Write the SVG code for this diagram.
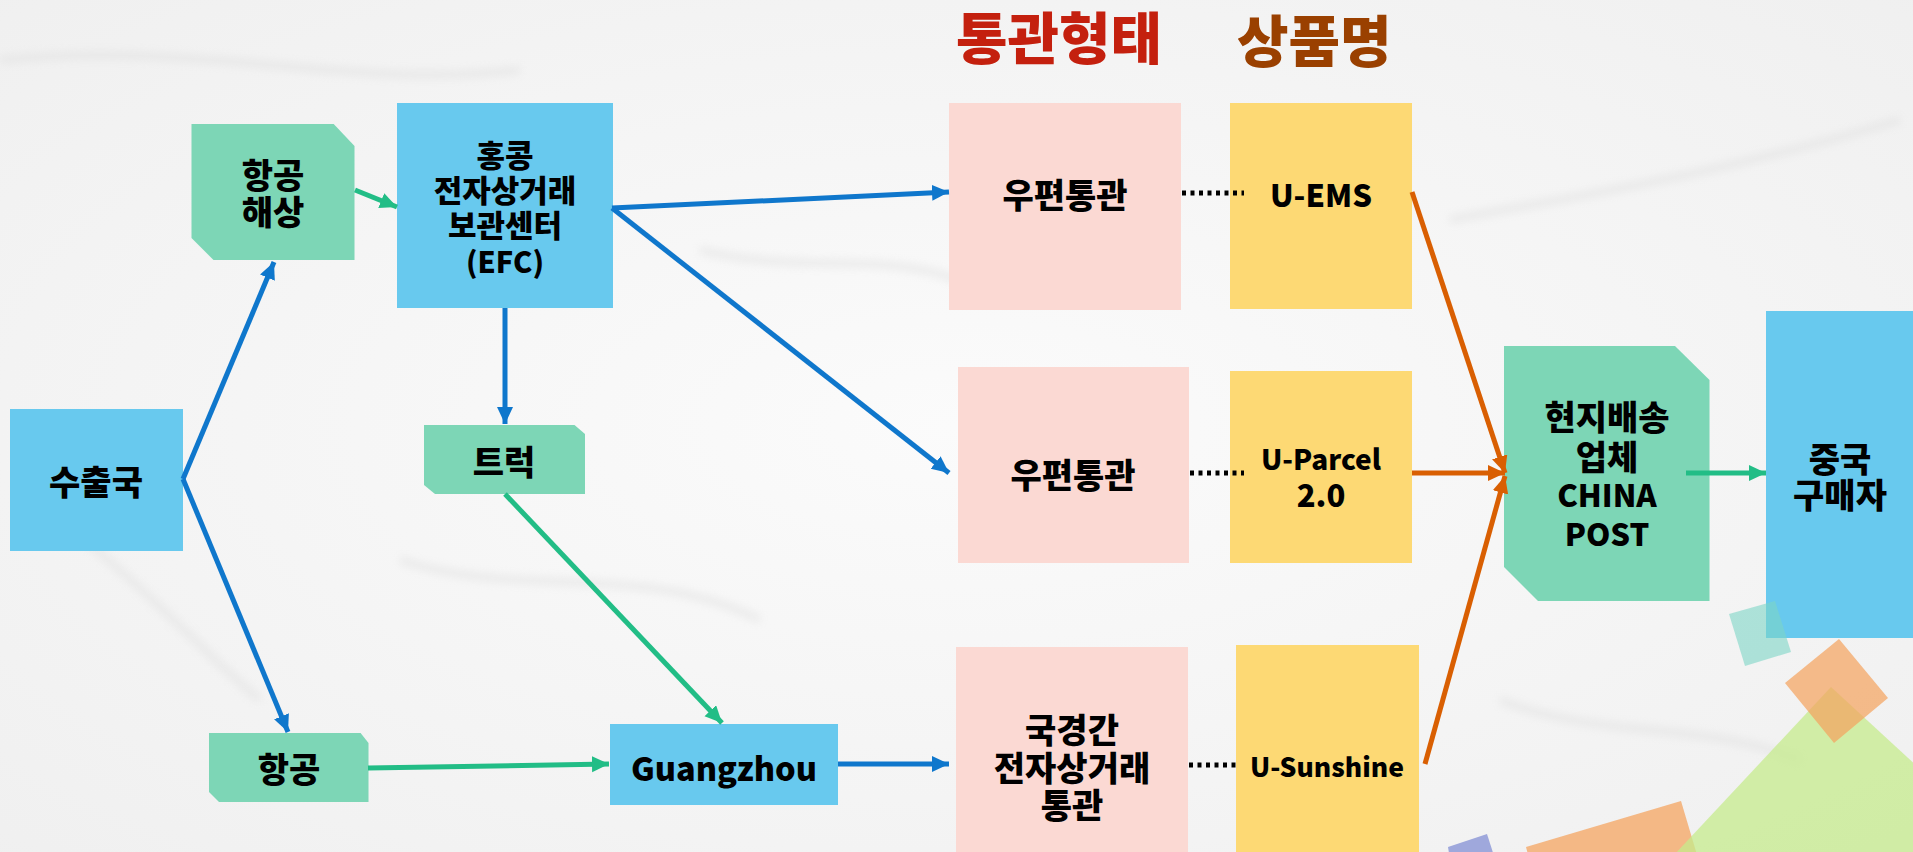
<svg xmlns="http://www.w3.org/2000/svg" width="1913" height="852" viewBox="0 0 1913 852">
<defs>
<style>
.t{font-family:"Noto Sans CJK KR","Noto Sans",sans-serif;font-weight:900;font-size:34px;fill:#000;text-anchor:middle;dominant-baseline:central}
.s31{font-size:31px}
.l31{font-size:31px}
.title{font-family:"Noto Sans CJK KR","Noto Sans",sans-serif;font-weight:900;font-size:56px;dominant-baseline:central}
.blue{fill:#68c9ee}
.green{fill:#7dd6b6}
.pink{fill:#fbd9d3}
.yellow{fill:#fdd974}
.cb{stroke:#0f77cc;stroke-width:5;fill:none;marker-end:url(#ab)}
.cg{stroke:#22bd86;stroke-width:5;fill:none;marker-end:url(#ag)}
.co{stroke:#d95f02;stroke-width:5;fill:none;marker-end:url(#ao)}
.dot{stroke:#000;stroke-width:5;stroke-dasharray:4 4.5;fill:none}
</style>
<marker id="ab" markerUnits="userSpaceOnUse" markerWidth="20" markerHeight="18" refX="17" refY="8" orient="auto"><path d="M0,0 L17,8 L0,16 Z" fill="#0f77cc"/></marker>
<marker id="ag" markerUnits="userSpaceOnUse" markerWidth="20" markerHeight="18" refX="17" refY="8" orient="auto"><path d="M0,0 L17,8 L0,16 Z" fill="#22bd86"/></marker>
<marker id="ao" markerUnits="userSpaceOnUse" markerWidth="20" markerHeight="18" refX="17" refY="8" orient="auto"><path d="M0,0 L17,8 L0,16 Z" fill="#d95f02"/></marker>
<radialGradient id="bg" cx="0.5" cy="0.5" r="0.75">
<stop offset="0" stop-color="#fbfbfb"/>
<stop offset="1" stop-color="#efefef"/>
</radialGradient>
<filter id="blur" x="-10%" y="-50%" width="120%" height="200%"><feGaussianBlur stdDeviation="4"/></filter>
</defs>
<rect x="0" y="0" width="1913" height="852" fill="url(#bg)"/>
<g id="paper" fill="none" stroke="#dcdcdc" stroke-width="8" opacity="0.45" filter="url(#blur)">
<path d="M0,60 C200,40 350,90 520,70"/>
<path d="M700,250 C820,280 900,240 1000,300"/>
<path d="M60,520 C160,600 200,650 260,700"/>
<path d="M1450,220 C1550,200 1700,180 1900,120"/>
<path d="M400,560 C520,600 640,560 760,620"/>
<path d="M1500,700 C1600,740 1700,720 1800,760"/>
</g>

<g id="titles">
<text class="title" x="956" y="34" fill="#c4200e">통관형태</text>
<text class="title" x="1237" y="37" fill="#9a4000">상품명</text>
</g>

<g id="n-export"><rect class="blue" x="10" y="409" width="173" height="142"/><text class="t" x="96" y="480">수출국</text></g>
<g id="n-airsea"><polygon class="green" points="191.5,124 333.7,124 354.5,146 354.5,260 213.5,260 191.5,238"/><text class="t"><tspan x="273" y="173">항공</tspan><tspan x="273" y="210">해상</tspan></text></g>
<g id="n-efc"><rect class="blue" x="397" y="103" width="216" height="205"/><text class="t s31"><tspan x="505" y="153">홍콩</tspan><tspan x="505" y="188">전자상거래</tspan><tspan x="505" y="223">보관센터</tspan><tspan x="505" y="260" style="font-size:29px">(EFC)</tspan></text></g>
<g id="n-truck"><polygon class="green" points="424,425 574.5,425 585,434 585,494 435,494 424,485"/><text class="t" x="504" y="460">트럭</text></g>
<g id="n-air"><polygon class="green" points="209,733 360.6,733 368.5,743 368.5,802 219,802 209,792"/><text class="t" x="289" y="767">항공</text></g>
<g id="n-gz"><rect class="blue" x="610" y="724" width="228" height="81"/><text class="t" x="724" y="766" style="font-size:32.5px">Guangzhou</text></g>
<g id="n-post1"><rect class="pink" x="949" y="103" width="232" height="207"/><text class="t" x="1065" y="193">우편통관</text></g>
<g id="n-uems"><rect class="yellow" x="1230" y="103" width="182" height="206"/><text class="t l31" x="1321" y="193">U-EMS</text></g>
<g id="n-post2"><rect class="pink" x="958" y="367" width="231" height="196"/><text class="t" x="1073" y="473">우편통관</text></g>
<g id="n-uparcel"><rect class="yellow" x="1230" y="371" width="182" height="192"/><text class="t" style="font-size:28px"><tspan x="1321" y="458">U-Parcel</tspan><tspan x="1321" y="493" style="font-size:31px">2.0</tspan></text></g>
<g id="n-cross"><rect class="pink" x="956" y="647" width="232" height="215"/><text class="t"><tspan x="1072" y="728">국경간</tspan><tspan x="1072" y="766">전자상거래</tspan><tspan x="1072" y="803">통관</tspan></text></g>
<g id="n-usun"><rect class="yellow" x="1236" y="645" width="183" height="217"/><text class="t" x="1327" y="765" style="font-size:26.5px">U-Sunshine</text></g>
<g id="n-local"><polygon class="green" points="1504,346 1675,346 1709.5,380 1709.5,601 1538,601 1504,567"/><text class="t"><tspan x="1607" y="415">현지배송</tspan><tspan x="1607" y="455">업체</tspan><tspan x="1607" y="493" class="l31">CHINA</tspan><tspan x="1607" y="532" class="l31">POST</tspan></text></g>
<g id="n-buyer"><rect class="blue" x="1766" y="311" width="160" height="327"/><text class="t"><tspan x="1840" y="457">중국</tspan><tspan x="1840" y="493">구매자</tspan></text></g>

<g id="deco">
<polygon points="1729,614 1775,601 1791,652 1745,666" fill="#7dd6c6" opacity="0.6"/>
<polygon points="1448,847 1487,834 1496,862 1452,872" fill="#9fa8dc"/>
<polygon points="1526,847 1681,801 1700,865 1540,900" fill="#f4a460" opacity="0.75"/>
<polygon points="1831,687 2030,870 1660,870" fill="#c6eb8c" opacity="0.75"/>
<polygon points="1839,639 1888,698 1834,743 1785,683" fill="#f4a460" opacity="0.72"/>
</g>

<g id="connectors">
<line class="cb" x1="183" y1="479" x2="274" y2="262"/>
<line class="cb" x1="183" y1="479" x2="288" y2="732"/>
<line class="cb" x1="505" y1="308" x2="505" y2="424"/>
<line class="cb" x1="612" y1="208" x2="949" y2="192"/>
<line class="cb" x1="612" y1="208" x2="949" y2="473"/>
<line class="cb" x1="838" y1="764" x2="949" y2="764"/>
<line class="cg" x1="355" y1="190" x2="397" y2="207"/>
<line class="cg" x1="505" y1="494" x2="722" y2="723"/>
<line class="cg" x1="368" y1="768" x2="609" y2="764"/>
<line class="cg" x1="1686" y1="473" x2="1766" y2="473"/>
<line class="co" x1="1412" y1="192" x2="1505" y2="473"/>
<line class="co" x1="1412" y1="473" x2="1505" y2="473"/>
<line class="co" x1="1425" y1="764" x2="1505" y2="476"/>
<line class="dot" x1="1182" y1="193" x2="1244" y2="193"/>
<line class="dot" x1="1190" y1="473" x2="1244" y2="473"/>
<line class="dot" x1="1189" y1="765" x2="1236" y2="765"/>
</g>
</svg>
